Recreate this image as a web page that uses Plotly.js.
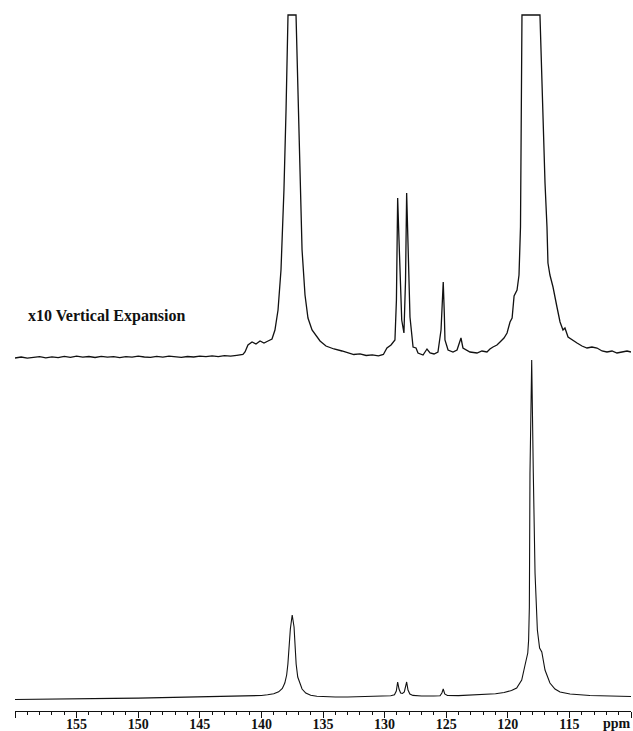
<!DOCTYPE html>
<html>
<head>
<meta charset="utf-8">
<script src="https://cdn.plot.ly/plotly-3.0.1.min.js"></script>
<style>html,body{margin:0;padding:0;background:#fff;}#chart{width:633px;height:731px;}</style>
</head>
<body>
<div id="chart"></div>
<script>
// x10 vertical expansion trace: [ppm, intensity] (same intensity units as normal trace, clipped at top)
var expandedSpectrum = [
 [160.0,-0.30],[159.5,-0.20],[159.0,-0.32],[158.5,-0.24],[158.0,-0.16],[157.5,-0.28],[157.0,-0.19],[156.5,-0.27],
 [156.0,-0.14],[155.5,-0.24],[155.0,-0.11],[154.5,-0.22],[154.0,-0.15],[153.5,-0.25],[153.0,-0.13],[152.5,-0.22],
 [152.0,-0.17],[151.5,-0.26],[151.0,-0.16],[150.5,-0.22],[150.0,-0.11],[149.5,-0.20],[149.0,-0.24],[148.5,-0.14],
 [148.0,-0.21],[147.5,-0.12],[147.0,-0.19],[146.5,-0.24],[146.0,-0.15],[145.5,-0.20],[145.0,-0.11],[144.5,-0.17],
 [144.0,-0.09],[143.5,-0.16],[143.0,-0.07],[142.5,-0.12],[142.0,-0.04],[141.5,0.05],[141.33,0.3],[141.09,1.0],
 [140.76,1.3],[140.44,1.1],[140.11,1.4],[139.79,1.2],[139.46,1.4],[139.14,1.6],[138.90,2.5],[138.65,4.5],
 [138.41,8.5],[138.17,16.5],[138.0,24.5],[137.84,34],[137.19,34],[137.03,25.5],[136.87,16.5],[136.70,10.5],
 [136.46,6.0],[136.22,3.7],[135.89,2.5],[135.57,1.9],[135.24,1.4],[134.76,0.9],[134.11,0.6],[133.46,0.4],
 [132.81,0.2],[132.5,0.05],[132.0,0.12],[131.5,-0.05],[131.0,0.02],[130.5,-0.08],[130.1,0.05],[129.81,0.7],
 [129.48,1.0],[129.16,1.5],[129.04,5.5],[128.94,15.7],[128.83,11.5],[128.75,8.8],[128.61,3.5],[128.43,2.2],
 [128.30,7.5],[128.21,16.2],[128.10,11.5],[128.04,8.8],[127.94,3.8],[127.69,0.8],[127.45,0.7],[127.29,0.2],
 [126.88,0.0],[126.56,0.6],[126.31,0.2],[125.99,0.1],[125.67,0.3],[125.42,2.5],[125.24,7.3],[125.15,4.0],
 [125.10,1.5],[124.85,0.5],[124.45,0.3],[124.12,0.5],[123.96,1.0],[123.80,1.7],[123.64,0.7],[123.39,0.5],
 [123.07,0.3],[122.50,0.2],[122.10,0.4],[121.69,0.3],[121.45,0.6],[121.20,0.8],[120.88,1.0],[120.63,1.3],
 [120.31,1.7],[120.06,2.2],[119.82,3.3],[119.65,3.7],[119.49,5.9],[119.25,6.5],[119.09,8.0],[118.97,12.8],
 [118.89,25.5],[118.85,34],[117.39,34],[117.23,26.5],[116.98,17.2],[116.82,12.8],[116.74,9.2],[116.58,8.0],
 [116.33,6.8],[116.01,4.8],[115.76,3.3],[115.52,2.5],[115.36,2.7],[115.11,1.8],[114.79,1.5],[114.38,1.2],
 [113.98,0.9],[113.57,0.7],[113.17,0.8],[112.76,0.7],[112.35,0.4],[111.95,0.3],[111.54,0.4],[111.14,0.2],
 [110.73,0.3],[110.32,0.4],[110.0,0.3]
];

// normal spectrum: [ppm, intensity]
var normalSpectrum = [
 [160,-0.5],[158,-0.4],[156,-0.2],[154,0.2],[152,0.6],[150,0.9],[148,1.3],[146,1.7],[144,2.0],[142,2.5],
 [141,3.0],[140,3.5],[139.5,4.2],[139,5.2],[138.6,7.2],[138.3,10.5],[138.1,16],[137.95,24],[137.85,35],[137.75,52],
 [137.65,70],[137.5,84],[137.35,72],[137.25,50],[137.18,35],[137.05,22],[136.9,16],[136.7,10],[136.4,6],[136.0,3.8],
 [135.5,2.8],[135,2.3],[134,2.0],[133,2.0],[132,2.2],[131,2.5],[130,2.8],[129.5,3.2],[129.2,4.2],[129.05,8],
 [128.94,17],[128.83,10],[128.7,6],[128.55,5.5],[128.4,7],[128.3,11],[128.21,17],[128.1,9],[127.95,5],[127.7,3.6],
 [127,3.0],[126,3.0],[125.5,3.2],[125.35,6],[125.24,10],[125.12,5],[124.9,3.5],[124,3.4],[123,3.8],[122,4.3],
 [121,5.2],[120.3,6.5],[119.7,8.5],[119.28,11],[118.87,19],[118.6,34],[118.38,46],[118.31,59],[118.25,92],[118.2,226],
 [118.06,339],[117.93,226],[117.79,126],[117.6,69],[117.42,51],[117.24,47],[117.14,39],[116.98,29],[116.58,16],[116.17,10],
 [115.76,7],[114.95,5],[113.33,3.5],[112,3],[110,2.5]
];

var tickValues = [110,115,120,125,130,135,140,145,150,155,160];
var tickLabels = ["","115","120","125","130","135","140","145","150","155",""];
var expansionLabel = "x10 Vertical Expansion";
var unitLabel = "ppm";

var serif = "Liberation Serif, Times New Roman, serif";

var traces = [
 {
  x: normalSpectrum.map(function(p){return p[0];}),
  y: normalSpectrum.map(function(p){return p[1];}),
  type: 'scatter', mode: 'lines', yaxis: 'y',
  line: {color: '#111', width: 1.1}, hoverinfo: 'skip', showlegend: false
 },
 {
  x: expandedSpectrum.map(function(p){return p[0];}),
  y: expandedSpectrum.map(function(p){return p[1];}),
  type: 'scatter', mode: 'lines', yaxis: 'y2',
  line: {color: '#111', width: 1.3}, hoverinfo: 'skip', showlegend: false
 }
];

var layout = {
  width: 633, height: 731,
  margin: {l: 15, r: 2, t: 0, b: 20, pad: 0},
  paper_bgcolor: '#fff', plot_bgcolor: '#fff',
  showlegend: false,
  xaxis: {
    range: [160, 110],
    showline: true, linecolor: '#111', linewidth: 1,
    showgrid: false, zeroline: false,
    ticks: 'outside', ticklen: 6, tickwidth: 1, tickcolor: '#111',
    ticklabelstandoff: -6,
    tickmode: 'array', tickvals: tickValues, ticktext: tickLabels,
    tickfont: {family: serif, size: 14, color: '#111', weight: 'bold'},
    minor: {tickmode: 'linear', tick0: 0, dtick: 1, ticks: 'outside', ticklen: 3, tickwidth: 1, tickcolor: '#111', showgrid: false}
  },
  yaxis: {range: [-12, 699], visible: false, fixedrange: true},
  yaxis2: {range: [-35.6, 35.5], overlaying: 'y', visible: false, fixedrange: true},
  annotations: [
    {text: expansionLabel, xref: 'paper', yref: 'paper', x: 0.0179, y: 0.555,
     xanchor: 'left', yanchor: 'middle', showarrow: false,
     font: {family: serif, size: 16, color: '#111', weight: 'bold'}},
    {text: unitLabel, xref: 'paper', yref: 'paper', x: 1.004, y: 0,
     xanchor: 'right', yanchor: 'top', yshift: -3, showarrow: false,
     font: {family: serif, size: 14, color: '#111', weight: 'bold'}}
  ]
};

Plotly.newPlot('chart', traces, layout, {staticPlot: true, displayModeBar: false});
</script>
</body>
</html>
